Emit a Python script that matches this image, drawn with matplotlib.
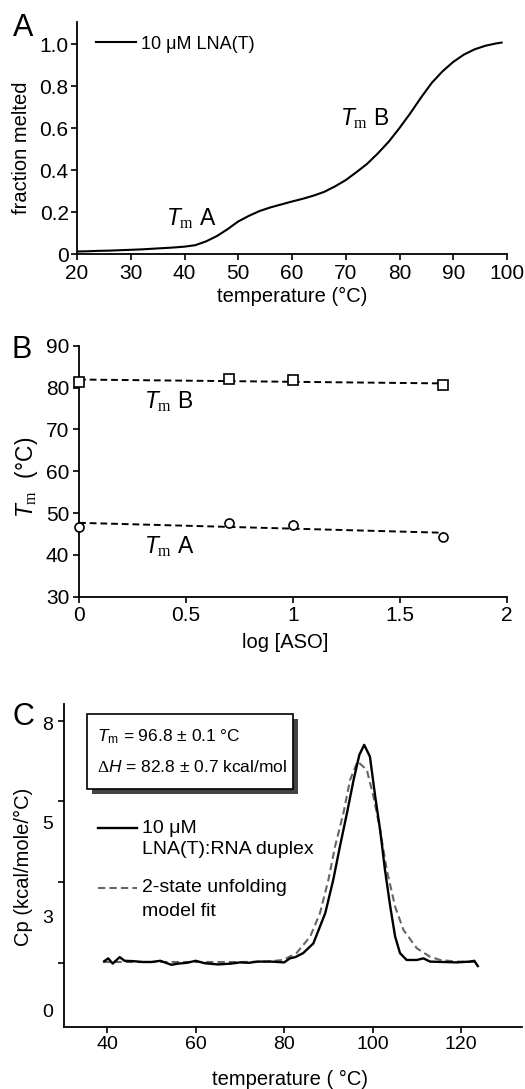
import numpy as np
import matplotlib
matplotlib.use("Agg")
import matplotlib.pyplot as plt
from matplotlib.patches import Rectangle
from matplotlib.lines import Line2D

plt.rcParams['font.family'] = ['Liberation Sans', 'DejaVu Sans']
plt.rcParams['mathtext.fontset'] = 'custom'
plt.rcParams['mathtext.it'] = 'Liberation Sans:italic'
plt.rcParams['mathtext.rm'] = 'Liberation Serif'
plt.rcParams['mathtext.sf'] = 'Liberation Sans'

# ---------------- data ----------------
# Panel A: UV melting curve
temp_A = [20, 22, 24, 26, 28, 30, 32, 34, 36, 38, 40, 42, 44, 46, 48, 50, 52, 54, 56, 58,
          60, 62, 64, 66, 68, 70, 72, 74, 76, 78, 80, 82, 84, 86, 88, 90, 92, 94, 96, 98, 99]
frac_A = [0.012, 0.013, 0.015, 0.016, 0.018, 0.020, 0.022, 0.025, 0.028, 0.031, 0.035, 0.042,
          0.060, 0.085, 0.118, 0.155, 0.182, 0.205, 0.222, 0.236, 0.250, 0.263, 0.278, 0.296,
          0.322, 0.352, 0.390, 0.430, 0.480, 0.535, 0.600, 0.670, 0.745, 0.815, 0.870, 0.915,
          0.950, 0.975, 0.992, 1.003, 1.007]

# Panel B: Tm vs log[ASO]
log_aso = [0.0, 0.7, 1.0, 1.7]
tm_B = [81.4, 82.1, 81.8, 80.5]
tm_A = [46.7, 47.7, 47.15, 44.35]

# Panel C: DSC (y in axis units where ticks sit at 2,4,6,8)
temp_C = [39.3, 40.2, 41.2, 42.8, 43.9, 46, 48, 50, 52, 54.5, 56, 58, 60, 62, 65, 68, 70, 72,
          74, 77, 80, 81.3, 82.5, 84.3, 86.6, 89.3, 91.1, 92.6, 94.2, 95.7, 97.0, 98.1, 99.4,
          100.6, 101.7, 102.8, 104.0, 105.1, 106.2, 107.7, 110.0, 111.5, 113, 116, 119, 122,
          123, 123.8]
cp_C = [2.05, 2.12, 1.99, 2.15, 2.06, 2.05, 2.03, 2.03, 2.06, 1.96, 1.99, 2.01, 2.06, 2.00,
        1.97, 1.99, 2.02, 2.01, 2.04, 2.04, 2.02, 2.12, 2.15, 2.25, 2.49, 3.24, 4.06, 4.88,
        5.71, 6.53, 7.15, 7.40, 7.11, 6.12, 5.30, 4.31, 3.40, 2.66, 2.25, 2.08, 2.08, 2.12,
        2.04, 2.03, 2.02, 2.04, 2.06, 1.93]
temp_fit = [39, 50, 60, 70, 76, 79.8, 82.8, 85.9, 88.1, 90.0, 91.5, 93.4, 94.9, 96.6, 98.7,
            100.2, 101.7, 103.2, 105.1, 107.0, 110.0, 113.0, 115.3, 119, 124]
cp_fit = [2.03, 2.03, 2.03, 2.03, 2.04, 2.08, 2.25, 2.66, 3.24, 4.06, 4.88, 5.71, 6.53, 6.99,
          6.78, 6.12, 5.30, 4.31, 3.40, 2.82, 2.37, 2.16, 2.08, 2.04, 2.03]
tick_C_pos = [2, 4, 6, 8]
label_C_pos = [0.84, 3.15, 5.47, 7.94]
label_C_txt = ['0', '3', '5', '8']

W, H = 525, 1089
fig = plt.figure(figsize=(W / 100, H / 100), dpi=100)


def frame(ax, ls=15):
    for s in ['top', 'right']:
        ax.spines[s].set_visible(False)
    for s in ['left', 'bottom']:
        ax.spines[s].set_linewidth(1.3)
    ax.tick_params(direction='out', length=4, width=1.2, labelsize=ls, pad=3)


# ---------------- Panel A ----------------
axA = fig.add_axes([77 / W, 1 - 254 / H, 430 / W, 232 / H])
frame(axA)
axA.plot(temp_A, frac_A, color='black', lw=1.5, label='10 μM LNA(T)')
axA.set_xlim(20, 100)
axA.set_ylim(0, 1.105)
axA.set_xticks(range(20, 101, 10))
axA.set_yticks([0, 0.2, 0.4, 0.6, 0.8, 1.0])
axA.set_yticklabels(['0', '0.2', '0.4', '0.6', '0.8', '1.0'])
axA.tick_params(axis='y', pad=2)
axA.set_xlabel('temperature (°C)', fontsize=14.5, va='center')
axA.xaxis.set_label_coords(0.5, -0.185)
axA.set_ylabel('fraction melted', fontsize=14.5, va='center')
axA.yaxis.set_label_coords(-0.128, 0.457)
axA.legend(loc='center left', bbox_to_anchor=(0.045, 0.905), frameon=False, fontsize=13,
           handlelength=2.2, handletextpad=0.25, borderpad=0, borderaxespad=0)
axA.text(41.3, 0.17, r'$\mathit{T}_{\mathrm{m}}$ A', fontsize=16.5, ha='center', va='center')
axA.text(73.6, 0.646, r'$\mathit{T}_{\mathrm{m}}$ B', fontsize=16.5, ha='center', va='center')

# ---------------- Panel B ----------------
axB = fig.add_axes([79 / W, 1 - 596.7 / H, 428 / W, 251 / H])
frame(axB)
xs = np.array(log_aso)
for yv, mk in [(tm_B, 's'), (tm_A, 'o')]:
    p = np.polyfit(xs, yv, 1)
    axB.plot(xs, np.polyval(p, xs), color='black', lw=1.4, ls=(0, (3.5, 2)))
    axB.plot(xs, yv, ls='none', marker=mk, ms=6.5, mfc='white', mec='black', mew=1.2,
             clip_on=False, zorder=3)
axB.set_xlim(0, 2)
axB.set_ylim(30, 90)
axB.set_xticks([0, 0.5, 1, 1.5, 2])
axB.set_xticklabels(['0', '0.5', '1', '1.5', '2'])
axB.set_yticks(range(30, 91, 10))
axB.set_xlabel('log [ASO]', fontsize=14.5, va='center')
axB.xaxis.set_label_coords(0.481, -0.184)
axB.set_ylabel(r'$\mathit{T}_{\mathrm{m}}$  (°C)', fontsize=16.5, va='center')
axB.yaxis.set_label_coords(-0.1215, 0.477)
axB.text(0.42, 76.65, r'$\mathit{T}_{\mathrm{m}}$ B', fontsize=16.5, ha='center', va='center')
axB.text(0.42, 41.96, r'$\mathit{T}_{\mathrm{m}}$ A', fontsize=16.5, ha='center', va='center')

# ---------------- Panel C ----------------
axC = fig.add_axes([64 / W, 1 - 1026.7 / H, 458 / W, 322.7 / H])
frame(axC, ls=14)
axC.plot(temp_fit, cp_fit, color='#666666', lw=1.5, ls=(0, (3.5, 2)), zorder=2)
axC.plot(temp_C, cp_C, color='black', lw=1.7, zorder=3)
axC.set_xlim(30.2, 133.8)
axC.set_ylim(0.43, 8.41)
axC.set_xticks(range(40, 121, 20))
axC.set_yticks(tick_C_pos)
axC.set_yticklabels([''] * len(tick_C_pos))
axC.set_yticks(label_C_pos, label_C_txt, minor=True)
axC.tick_params(axis='y', which='minor', length=0, pad=8, labelsize=14)
axC.set_xlabel('temperature ( °C)', fontsize=14.5, va='center')
axC.xaxis.set_label_coords(0.493, -0.165)
axC.set_ylabel('Cp (kcal/mole/°C)', fontsize=14.5, va='center')
axC.yaxis.set_label_coords(-0.0895, 0.496)

# manual legend for panel C
ta = axC.transAxes
axC.add_line(Line2D([0.0742, 0.1594], [0.6157, 0.6157], transform=ta, color='black', lw=1.7))
axC.add_line(Line2D([0.0742, 0.1594], [0.4299, 0.4299], transform=ta, color='#666666', lw=1.5,
                    ls=(0, (3.5, 2))))
for txt, yy in [('10 μM', 0.6157), ('LNA(T):RNA duplex', 0.5476),
                ('2-state unfolding', 0.4299), ('model fit', 0.3564)]:
    axC.text(0.1697, yy, txt, transform=ta, fontsize=14, ha='left', va='center')

# result box with shadow
bx0, by0, bw, bh = 87.3 / W, 1 - 789 / H, 206 / W, 74.7 / H
fig.add_artist(Rectangle((bx0 + 5 / W, by0 - 5 / H), bw, bh, transform=fig.transFigure,
                         facecolor='#444444', edgecolor='none', zorder=5))
fig.add_artist(Rectangle((bx0, by0), bw, bh, transform=fig.transFigure,
                         facecolor='white', edgecolor='black', lw=1.2, zorder=6))
fig.text(97.3 / W, 1 - 736.7 / H, r'$\mathit{T}_{\mathsf{m}}$ = 96.8 ± 0.1 °C', fontsize=12.5,
         ha='left', va='center', zorder=7)
fig.text(97.3 / W, 1 - 766.7 / H, r'$\mathit{\Delta H}$ = 82.8 ± 0.7 kcal/mol', fontsize=12.5,
         ha='left', va='center', zorder=7)

# panel letters
fig.text(23 / W, 1 - 28 / H, 'A', fontsize=22, ha='center', va='center')
fig.text(22 / W, 1 - 350 / H, 'B', fontsize=22, ha='center', va='center')
fig.text(23 / W, 1 - 717 / H, 'C', fontsize=22, ha='center', va='center')

fig.savefig('out.png', dpi=100)
